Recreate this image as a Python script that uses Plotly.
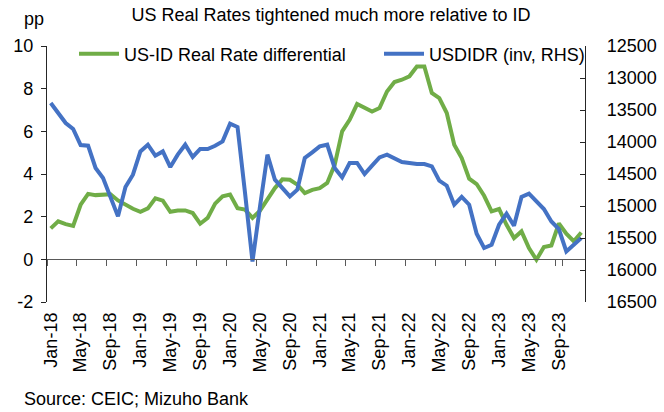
import plotly.graph_objects as go

months = ["Jan", "Feb", "Mar", "Apr", "May", "Jun", "Jul", "Aug", "Sep", "Oct", "Nov", "Dec"]
categories = [f"{m}-{y}" for y in range(18, 24) for m in months]
tick_labels = categories[::4]

real_rate_diff = [
    1.45, 1.78, 1.65, 1.57, 2.56, 3.07, 3.01, 3.03, 3.05, 2.76, 2.56, 2.37,
    2.23, 2.39, 2.86, 2.75, 2.23, 2.29, 2.29, 2.17, 1.67, 1.94, 2.61, 2.95,
    3.04, 2.40, 2.33, 1.94, 2.28, 2.81, 3.34, 3.75, 3.73, 3.50, 3.11, 3.26,
    3.34, 3.58, 4.43, 6.00, 6.54, 7.28, 7.12, 6.93, 7.09, 7.87, 8.31, 8.42,
    8.58, 9.04, 9.04, 7.80, 7.56, 6.86, 5.37, 4.75, 3.78, 3.53, 2.98, 2.25,
    2.36, 1.62, 1.00, 1.31, 0.53, -0.02, 0.58, 0.65, 1.68, 1.20, 0.85, 1.26,
]

usdidr = [
    13391, 13547, 13703, 13797, 14047, 14058, 14406, 14563, 14859, 15162, 14703, 14511,
    14147, 14042, 14214, 14147, 14391, 14198, 14042, 14234, 14109, 14109, 14058, 13990,
    13714, 13766, 14792, 15866, 15011, 14198, 14589, 14730, 14850, 14745, 14250, 14162,
    14068, 14042, 14406, 14553, 14328, 14328, 14500, 14370, 14240, 14198, 14261, 14313,
    14328, 14344, 14344, 14381, 14605, 14683, 14980, 14859, 14980, 15433, 15656, 15605,
    15292, 15120, 15308, 14859, 14808, 14928, 15047, 15241, 15360, 15711, 15605, 15500,
]

left_ticks = [-2, 0, 2, 4, 6, 8, 10]
right_ticks = [12500, 13000, 13500, 14000, 14500, 15000, 15500, 16000, 16500]

GREEN = "#70AD47"
BLUE = "#4472C4"
FONT = "Liberation Sans, Arial, sans-serif"

fig = go.Figure()
fig.add_trace(go.Scatter(
    x=categories, y=real_rate_diff, mode="lines",
    name="US-ID Real Rate differential", showlegend=True,
    line=dict(color=GREEN, width=4), xaxis="x", yaxis="y", legend="legend",
))
fig.add_trace(go.Scatter(
    x=categories, y=usdidr, mode="lines",
    name="USDIDR (inv, RHS)", showlegend=True,
    line=dict(color=BLUE, width=4), xaxis="x2", yaxis="y2", legend="legend2",
))

W, H = 664, 412
L, R, T, B = 47, 79, 46, 110
pw, ph = W - L - R, H - T - B

def px_x(p):
    return (p - L) / pw

def px_y(p):
    return (H - B - p) / ph

fig.update_layout(
    width=W, height=H, showlegend=True,
    margin=dict(l=L, r=R, t=T, b=B, pad=0, autoexpand=False),
    paper_bgcolor="white", plot_bgcolor="white",
    font=dict(family=FONT, size=18, color="#000000"),
    title=dict(text="US Real Rates tightened much more relative to ID",
               x=331 / W, xanchor="center", y=1 - 15 / H, yanchor="middle",
               font=dict(size=18)),
    xaxis=dict(
        type="category", range=[-0.5, len(categories) - 0.5], automargin=False,
        tickmode="array", tickvals=tick_labels, ticktext=tick_labels,
        tickangle=-90, ticks="", showline=False, showgrid=False, zeroline=False,
        tickfont=dict(size=18), ticklabelstandoff=6,
    ),
    xaxis2=dict(
        type="category", overlaying="x", anchor="free", automargin=False,
        position=(0 - left_ticks[0]) / (left_ticks[-1] - left_ticks[0]),
        range=[-0.5, len(categories) - 0.5],
        tickmode="array", tickvals=tick_labels, tickson="boundaries",
        ticks="outside", ticklen=6, tickcolor="#595959", tickwidth=1,
        showticklabels=False, showline=True, linecolor="#595959", linewidth=1.3,
        showgrid=False, zeroline=False,
    ),
    yaxis=dict(
        range=[left_ticks[0], left_ticks[-1]], tickmode="array", tickvals=left_ticks,
        ticktext=[str(v) for v in left_ticks], automargin=False,
        ticks="outside", ticklen=5, tickcolor="#262626",
        showline=True, linecolor="#262626", linewidth=1.3,
        showgrid=False, zeroline=False, tickfont=dict(size=18), ticklabelstandoff=4,
    ),
    yaxis2=dict(
        overlaying="y", side="right", anchor="x", automargin=False,
        range=[right_ticks[-1], right_ticks[0]], tickmode="array", tickvals=right_ticks,
        ticktext=[str(v) for v in right_ticks],
        ticks="inside", ticklen=5, tickcolor="#262626",
        showline=True, linecolor="#262626", linewidth=1.3,
        showgrid=False, zeroline=False, tickfont=dict(size=18), ticklabelstandoff=17,
    ),
    legend=dict(x=px_x(74), y=px_y(54), xanchor="left", yanchor="middle",
                orientation="h", bgcolor="rgba(0,0,0,0)", font=dict(size=18),
                itemwidth=40, tracegroupgap=0, visible=True),
    legend2=dict(x=px_x(379), y=px_y(54), xanchor="left", yanchor="middle",
                 orientation="h", bgcolor="rgba(0,0,0,0)", font=dict(size=18),
                 itemwidth=40, tracegroupgap=0, visible=True),
    annotations=[
        dict(text="pp", xref="paper", yref="paper", x=px_x(34), y=px_y(19),
             xanchor="center", yanchor="middle", showarrow=False, font=dict(size=18)),
        dict(text="Source: CEIC; Mizuho Bank", xref="paper", yref="paper",
             x=px_x(22), y=px_y(399), xanchor="left", yanchor="middle",
             showarrow=False, font=dict(size=18)),
    ],
)

fig.write_html(
    "out.html",
    config={"displayModeBar": False},
    post_script="document.body.style.margin='0';document.body.style.padding='0';",
)
